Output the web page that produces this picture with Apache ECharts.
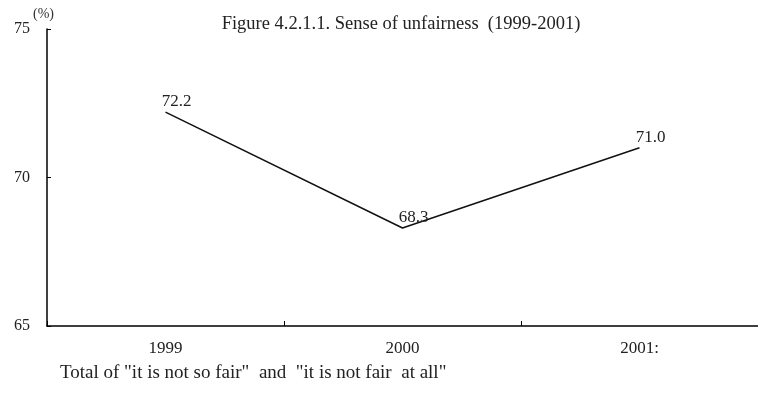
<!DOCTYPE html>
<html>
<head>
<meta charset="utf-8">
<script src="https://cdn.jsdelivr.net/npm/echarts@6/dist/echarts.min.js"></script>
<style>
  html, body { margin: 0; padding: 0; background: #fff; }
  #chart { width: 758px; height: 396px; }
</style>
</head>
<body>
<div id="chart"></div>
<script>
const years = ['1999', '2000', '2001:'];
const unfairness = [72.2, 68.3, 71.0];
const yTicks = [65, 70, 75];

const serif = '"Liberation Serif", "DejaVu Serif", serif';
const chart = echarts.init(document.getElementById('chart'), null, { renderer: 'canvas' });

chart.setOption({
  animation: false,
  backgroundColor: '#fff',
  title: {
    text: 'Figure 4.2.1.1. Sense of unfairness  (1999-2001)',
    left: 396,
    textAlign: 'center',
    top: 10,
    textStyle: { fontFamily: serif, fontSize: 18.5, fontWeight: 'normal', color: '#222' }
  },
  grid: { left: 47, right: 0, top: 29, bottom: 70 },
  xAxis: {
    type: 'category',
    data: years,
    boundaryGap: true,
    axisLine: { lineStyle: { color: '#000', width: 1.5 } },
    axisTick: { show: true, inside: true, length: 5, lineStyle: { color: '#000', width: 1 } },
    axisLabel: { fontFamily: serif, fontSize: 17, color: '#222', margin: 14 }
  },
  yAxis: {
    type: 'value',
    min: yTicks[0],
    max: yTicks[yTicks.length - 1],
    interval: 5,
    splitLine: { show: false },
    axisLine: { show: true, lineStyle: { color: '#000', width: 1.5 } },
    axisTick: { show: true, inside: true, length: 4, lineStyle: { color: '#000' } },
    axisLabel: { fontFamily: serif, fontSize: 16, color: '#222', margin: 17 }
  },
  graphic: [
    {
      type: 'text', left: 33, top: 7,
      style: { text: '(%)', font: '14px ' + serif, fill: '#333' }
    },
    {
      type: 'text', left: 60, top: 364,
      style: { text: 'Total of "it is not so fair"  and  "it is not fair  at all"', font: '19px ' + serif, fill: '#222' }
    }
  ],
  series: [
    {
      type: 'line',
      data: unfairness,
      symbol: 'circle',
      symbolSize: 2,
      showSymbol: true,
      itemStyle: { color: 'rgba(0,0,0,0)', borderWidth: 0 },
      lineStyle: { color: '#111', width: 1.5 },
      label: {
        show: true,
        position: 'top',
        distance: 1,
        offset: [11, 0],
        formatter: p => p.value.toFixed(1),
        fontFamily: serif,
        fontSize: 17,
        color: '#222'
      }
    }
  ]
});
</script>
</body>
</html>
